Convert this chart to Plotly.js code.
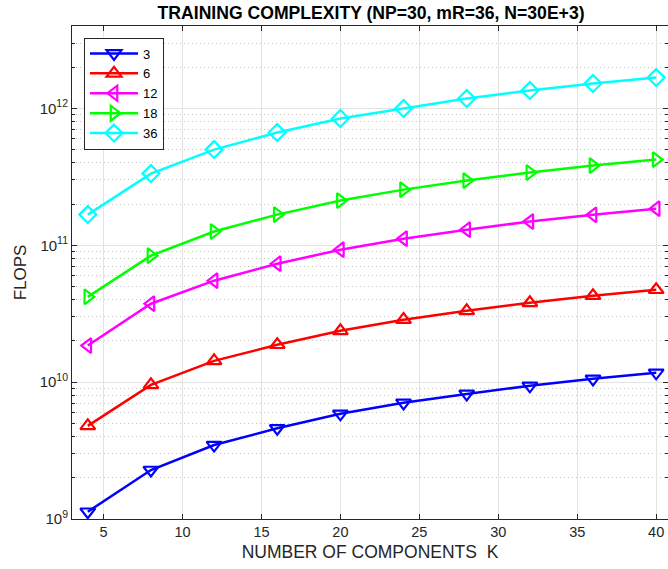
<!DOCTYPE html>
<html>
<head>
<meta charset="utf-8">
<script src="https://cdn.plot.ly/plotly-3.0.1.min.js"></script>
<style>html,body{margin:0;padding:0;background:#fff;}#chart{width:668px;height:569px;}</style>
</head>
<body>
<div id="chart"></div>
<script>
const K = [4, 8, 12, 16, 20, 24, 28, 32, 36, 40];
const seriesNames = ["3", "6", "12", "18", "36"];
const flops3  = [1.13e9, 2.28e9, 3.47e9, 4.6e9, 5.87e9, 7.06e9, 8.2e9, 9.4e9, 1.057e10, 1.17e10];
const flops6  = [4.79e9, 9.55e9, 1.43e10, 1.875e10, 2.37e10, 2.86e10, 3.32e10, 3.8e10, 4.28e10, 4.73e10];
const flops12 = [1.85e10, 3.74e10, 5.51e10, 7.33e10, 9.28e10, 1.117e11, 1.30e11, 1.49e11, 1.67e11, 1.85e11];
const flops18 = [4.2e10, 8.4e10, 1.26e11, 1.675e11, 2.12e11, 2.55e11, 2.97e11, 3.4e11, 3.82e11, 4.23e11];
const flops36 = [1.675e11, 3.34e11, 5.0e11, 6.66e11, 8.44e11, 9.98e11, 1.18e12, 1.35e12, 1.52e12, 1.68e12];
const xTickVals = [5, 10, 15, 20, 25, 30, 35, 40];
const xTickText = ["5", "10", "15", "20", "25", "30", "35", "40"];
const yTickVals = [1e9, 1e10, 1e11, 1e12];
const yTickText = ["10<sup>9</sup>", "10<sup>10</sup>", "10<sup>11</sup>", "10<sup>12</sup>"];

const allY = [flops3, flops6, flops12, flops18, flops36];
const colors = ["#0000ff", "#ff0000", "#ff00ff", "#00ff00", "#00ffff"];
const symbols = ["triangle-down-open", "triangle-up-open", "triangle-left-open", "triangle-right-open", "diamond-open"];

const traces = allY.map((y, i) => ({
  x: K, y: y, name: seriesNames[i], type: "scatter", mode: "lines+markers",
  line: {color: colors[i], width: 2.5},
  marker: {symbol: symbols[i], size: 13, color: colors[i], line: {color: colors[i], width: 2.2}}
}));

const axisCol = "#262626";
const layout = {
  width: 668, height: 569,
  margin: {l: 72, r: 0, t: 26, b: 50},
  paper_bgcolor: "#fff", plot_bgcolor: "#fff",
  font: {family: "Liberation Sans, Arial, sans-serif", color: axisCol, size: 13},
  title: {text: "<b>TRAINING COMPLEXITY (NP=30, mR=36, N=30E+3)</b>", x: 0.5555, xanchor: "center", y: 0.977, yanchor: "middle",
          font: {size: 17.6, color: "#000"}},
  showlegend: true,
  legend: {x: (84 - 72) / 596, y: (519 - 37.5) / 493, xanchor: "left", yanchor: "top",
           bgcolor: "#fff", bordercolor: axisCol, borderwidth: 1, font: {size: 13, color: "#000"},
           tracegroupgap: 0, itemwidth: 48},
  xaxis: {
    range: [3, 40.75], tickvals: xTickVals, ticktext: xTickText,
    ticks: "inside", ticklen: 5, tickcolor: axisCol, showline: true, linecolor: axisCol, linewidth: 1, mirror: "ticks",
    showgrid: true, gridcolor: "#e3e3e3", gridwidth: 1, zeroline: false,
    tickfont: {size: 14.5}, title: {text: "NUMBER OF COMPONENTS  K", font: {size: 17.5}, standoff: 6}
  },
  yaxis: {
    type: "log", range: [9, Math.log10(4e12)], tickvals: yTickVals, ticktext: yTickText,
    ticks: "inside", ticklen: 5, tickcolor: axisCol, showline: true, linecolor: axisCol, linewidth: 1, mirror: "ticks",
    showgrid: true, gridcolor: "#e3e3e3", gridwidth: 1, zeroline: false,
    minor: {dtick: "D1", ticks: "inside", ticklen: 3, tickcolor: axisCol, showgrid: true, gridcolor: "#c4c4c4", griddash: "1px,3px", gridwidth: 1},
    tickfont: {size: 15}, title: {text: "FLOPS", font: {size: 17}, standoff: 8}
  }
};

Plotly.newPlot("chart", traces, layout, {displayModeBar: false, staticPlot: true});
</script>
</body>
</html>
